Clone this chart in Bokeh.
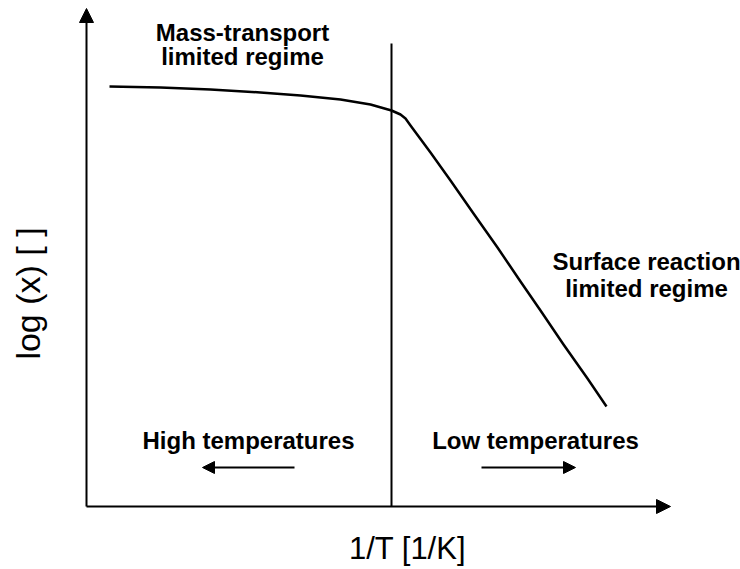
import math
from bokeh.plotting import figure
from bokeh.models import Range1d, Arrow, NormalHead, ColumnDataSource
from bokeh.core.properties import value
from bokeh.embed import file_html
from bokeh.resources import INLINE

# Schematic Arrhenius-type curve: log(x) versus 1/T (arbitrary units)
inv_T = [23, 74, 124, 174, 214, 254, 284, 305, 314, 319, 324, 344, 364, 387, 411, 434, 454, 477, 501, 520]
log_x = [420, 419, 417, 414, 411, 407, 402, 396, 392, 388, 381, 354, 326, 293, 259, 225, 196, 162, 128, 100]

# Boundary between the two regimes
boundary_x = 305
boundary_top = 463

# Axis extents
x_axis_end = 584
y_axis_end = 498

# Region annotations
region_labels = ["Mass-transport", "limited regime", "Surface reaction", "limited regime",
                 "High temperatures", "Low temperatures"]
region_x = [156, 156, 560, 560, 162, 449]
region_y = [474, 450, 245, 218, 66, 66]

# Direction arrows (start, end)
dir_x_start = [208, 395]
dir_x_end = [116, 489]
dir_y = [39, 39]

x_label = "1/T [1/K]"
y_label = "log (x) [ ]"

p = figure(width=740, height=569, output_backend="svg", toolbar_location=None,
           x_range=Range1d(-86, 654), y_range=Range1d(-63, 506),
           min_border=0, min_border_left=0, min_border_right=0,
           min_border_top=0, min_border_bottom=0)
p.axis.visible = False
p.grid.visible = False
p.outline_line_color = None
p.background_fill_color = "white"
p.border_fill_color = "white"

# Axes with arrow heads
p.add_layout(Arrow(x_start=0, y_start=0, x_end=0, y_end=y_axis_end,
                   line_width=2, line_color="black",
                   end=NormalHead(size=14, fill_color="black", line_color="black")))
p.add_layout(Arrow(x_start=0, y_start=0, x_end=x_axis_end, y_end=0,
                   line_width=2, line_color="black",
                   end=NormalHead(size=14, fill_color="black", line_color="black")))

# Regime boundary
p.segment(x0=[boundary_x], y0=[0], x1=[boundary_x], y1=[boundary_top],
          line_color="black", line_width=2)

# Curve
p.line(inv_T, log_x, line_color="black", line_width=2.5, line_join="round")

# Temperature direction arrows
for xs, xe, yy in zip(dir_x_start, dir_x_end, dir_y):
    p.add_layout(Arrow(x_start=xs, y_start=yy, x_end=xe, y_end=yy,
                       line_width=2, line_color="black",
                       end=NormalHead(size=12, fill_color="black", line_color="black")))

src = ColumnDataSource(dict(x=region_x, y=region_y, t=region_labels))
p.text(x="x", y="y", text="t", source=src, text_font=value("Liberation Sans"),
       text_font_style="bold", text_font_size="24px", text_align="center",
       text_baseline="alphabetic", text_color="black")

p.text(x=[321], y=[-42], text=[x_label], text_font=value("Liberation Sans"),
       text_font_size="31px", text_align="center", text_baseline="alphabetic",
       text_color="black")
p.text(x=[-59], y=[213], text=[y_label], text_font=value("Liberation Sans"),
       text_font_size="34px", text_align="center", text_baseline="middle",
       angle=math.pi / 2, text_color="black")

open("out.html", "w").write(file_html(p, INLINE))
